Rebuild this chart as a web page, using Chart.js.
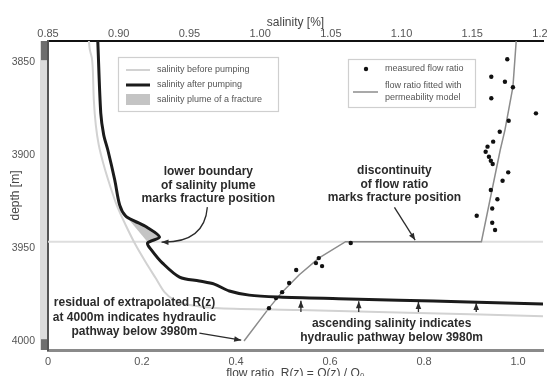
<!DOCTYPE html>
<html>
<head>
<meta charset="utf-8">
<script src="https://cdn.jsdelivr.net/npm/chart.js@4"></script>
<style>
  body { margin: 0; background: #fff; }
  canvas { display: block; }
</style>
</head>
<body>
<canvas id="chart" width="547" height="376"></canvas>
<script>
const depthTicks = [3850, 3900, 3950, 4000];
const salinityTicks = [0.85, 0.9, 0.95, 1.0, 1.05, 1.1, 1.15, 1.2];
const flowTicks = [0, 0.2, 0.4, 0.6, 0.8, 1.0];

// salinity before pumping (top axis)
const beforeSal = [0.8789, 0.8796, 0.881, 0.8817, 0.8824, 0.8838, 0.8859, 0.8894, 0.8937, 0.8986, 0.9049, 0.912, 0.919, 0.9261, 0.9324, 0.9394, 0.95, 0.9711, 1.0275, 1.112, 1.2];
const beforeDepth = [3838.7, 3843.5, 3847.8, 3854.3, 3870.4, 3883.9, 3894.6, 3905.4, 3916.1, 3926.9, 3937.6, 3948.4, 3957.5, 3966.1, 3973.7, 3978.0, 3980.6, 3982.3, 3983.3, 3984.9, 3986.6];

// salinity after pumping (top axis)
const afterSal = [0.8852, 0.8873, 0.8894, 0.8923, 0.8972, 0.9007, 0.9049, 0.9113, 0.9197, 0.9289, 0.9204, 0.9232, 0.931, 0.943, 0.957, 0.9676, 0.9782, 0.9923, 1.0134, 1.0556, 1.0979, 1.1472, 1.2];
const afterDepth = [3838.7, 3877.4, 3889.2, 3897.3, 3913.4, 3926.9, 3932.8, 3935.5, 3938.7, 3944.1, 3947.3, 3951.1, 3958.1, 3965.6, 3967.7, 3969.4, 3973.1, 3975.3, 3976.3, 3977.2, 3978.0, 3979.0, 3980.1];

// salinity plume of the fracture
const plumeSal = [0.9056, 0.9197, 0.9289, 0.9204, 0.9056];
const plumeDepth = [3933.3, 3938.7, 3944.1, 3946.8, 3933.3];

// measured flow ratio (bottom axis)
const measuredR = [0.470, 0.485, 0.498, 0.513, 0.528, 0.570, 0.576, 0.583, 0.644,
  0.977, 0.943, 0.972, 0.989, 0.943, 1.038, 0.980, 0.961, 0.947, 0.935, 0.931, 0.938, 0.942, 0.946,
  0.979, 0.967, 0.942, 0.956, 0.945, 0.912, 0.945, 0.951];
const measuredDepth = [3982.3, 3976.9, 3973.7, 3968.8, 3961.8, 3958.1, 3955.4, 3959.7, 3947.3,
  3848.5, 3857.9, 3860.6, 3863.6, 3869.5, 3877.6, 3881.6, 3887.5, 3892.8, 3895.5, 3898.2, 3900.9, 3903.1, 3904.8,
  3909.3, 3913.8, 3918.8, 3923.8, 3928.7, 3932.6, 3936.4, 3940.3];

// flow ratio fitted with permeability model
const fittedR = [0.996, 0.989, 0.972, 0.962, 0.922, 0.633, 0.576, 0.534, 0.498, 0.470, 0.417];
const fittedDepth = [3838.7, 3863.4, 3886.6, 3897.3, 3946.6, 3946.6, 3955.4, 3964.5, 3973.7, 3982.3, 4000.0];

const fractureDepth = 3946.6;
const stripDark = [[3838.7, 3849], [3999, 4004.8]];

const notes = [
  { lines: ['lower boundary', 'of salinity plume', 'marks fracture position'], r: 0.341, d: 3909.1, gap: 13.5 },
  { lines: ['discontinuity', 'of flow ratio', 'marks fracture position'], r: 0.737, d: 3908.6, gap: 13.5 },
  { lines: ['residual of extrapolated R(z)', 'at 4000m indicates hydraulic', 'pathway below 3980m'], r: 0.184, d: 3979.6, gap: 14.5 },
  { lines: ['ascending salinity indicates', 'hydraulic pathway below 3980m'], r: 0.731, d: 3990.6, gap: 14 }
];
const arrows = [
  { from: [0.339, 3928.0], ctrl: [0.333, 3947.3], to: [0.2415, 3946.8] },
  { from: [0.737, 3928.1], to: [0.781, 3945.7] },
  { from: [0.322, 3995.7], to: [0.411, 3999.5] },
  { from: [0.538, 3984.4], to: [0.538, 3978.3] },
  { from: [0.661, 3984.4], to: [0.661, 3978.6] },
  { from: [0.788, 3984.4], to: [0.788, 3979.0] },
  { from: [0.911, 3984.4], to: [0.911, 3979.5] }
];

const FONT = '"Liberation Sans", Arial, sans-serif';
const pts = (xs, ys) => xs.map((v, i) => ({ x: v, y: ys[i] }));
const fixTicks = arr => scale => { scale.ticks = arr.map(v => ({ value: v })); };
const fitBox = (w, h) => s => {
  if (w) s.width = w;
  if (h) s.height = h;
  s.paddingLeft = 0; s.paddingRight = 0; s.paddingTop = 0; s.paddingBottom = 0;
};

function arrowHead(ctx, x1, y1, x2, y2) {
  const a = Math.atan2(y2 - y1, x2 - x1);
  const len = 7, w = 2.8;
  ctx.beginPath();
  ctx.moveTo(x2, y2);
  ctx.lineTo(x2 - len * Math.cos(a) + w * Math.sin(a), y2 - len * Math.sin(a) - w * Math.cos(a));
  ctx.lineTo(x2 - len * Math.cos(a) - w * Math.sin(a), y2 - len * Math.sin(a) + w * Math.cos(a));
  ctx.closePath();
  ctx.fill();
}

const decor = {
  id: 'decor',
  beforeDatasetsDraw(chart) {
    const { ctx, chartArea: a, scales } = chart;
    const y = scales.y.getPixelForValue(fractureDepth);
    ctx.save();
    ctx.strokeStyle = '#dedede';
    ctx.lineWidth = 2;
    ctx.beginPath();
    ctx.moveTo(a.left, y);
    ctx.lineTo(a.right, y);
    ctx.stroke();
    ctx.restore();
  },
  afterDraw(chart) {
    const { ctx, chartArea: a, scales } = chart;
    const ys = scales.y, xb = scales.xBottom;
    ctx.save();
    // depth strip left of the axis
    ctx.fillStyle = '#dcdcdc';
    ctx.fillRect(a.left - 8, a.top, 7, a.bottom - a.top);
    ctx.fillStyle = '#6e6e6e';
    stripDark.forEach(([d0, d1]) => {
      const p0 = ys.getPixelForValue(d0), p1 = ys.getPixelForValue(d1);
      ctx.fillRect(a.left - 7, p0, 6, p1 - p0);
    });

    // annotations
    ctx.fillStyle = '#2b2b2b';
    ctx.strokeStyle = '#2b2b2b';
    ctx.font = 'bold 12px ' + FONT;
    ctx.textAlign = 'center';
    ctx.textBaseline = 'middle';
    notes.forEach(n => {
      const x = xb.getPixelForValue(n.r);
      const y0 = ys.getPixelForValue(n.d);
      n.lines.forEach((t, i) => ctx.fillText(t, x, y0 + i * n.gap));
    });
    ctx.lineWidth = 1.3;
    arrows.forEach(ar => {
      const x1 = xb.getPixelForValue(ar.from[0]), y1 = ys.getPixelForValue(ar.from[1]);
      const x2 = xb.getPixelForValue(ar.to[0]), y2 = ys.getPixelForValue(ar.to[1]);
      ctx.beginPath();
      ctx.moveTo(x1, y1);
      if (ar.ctrl) {
        const cx = xb.getPixelForValue(ar.ctrl[0]), cy = ys.getPixelForValue(ar.ctrl[1]);
        ctx.quadraticCurveTo(cx, cy, x2, y2);
        ctx.stroke();
        arrowHead(ctx, cx, cy, x2, y2);
      } else {
        ctx.lineTo(x2, y2);
        ctx.stroke();
        arrowHead(ctx, x1, y1, x2, y2);
      }
    });

    // legends
    const ds = chart.data.datasets;
    ctx.font = '9px ' + FONT;
    ctx.textAlign = 'left';
    ctx.fillStyle = '#555';
    ctx.strokeStyle = '#cfcfcf';
    ctx.lineWidth = 1.2;
    ctx.strokeRect(118.5, 57.5, 160, 54);
    ctx.strokeRect(348.5, 59.5, 127, 48);

    ctx.lineWidth = 2;
    ctx.strokeStyle = ds[2].borderColor;
    ctx.beginPath(); ctx.moveTo(126, 70); ctx.lineTo(150, 70); ctx.stroke();
    ctx.lineWidth = 3;
    ctx.strokeStyle = ds[0].borderColor;
    ctx.beginPath(); ctx.moveTo(126, 85); ctx.lineTo(150, 85); ctx.stroke();
    ctx.fillStyle = ds[4].backgroundColor;
    ctx.fillRect(126, 94, 24, 11);
    ctx.fillStyle = '#555';
    ctx.fillText(ds[2].label, 157, 70);
    ctx.fillText(ds[0].label, 157, 85);
    ctx.fillText(ds[4].label, 157, 99.5);

    ctx.fillStyle = '#111';
    ctx.beginPath(); ctx.arc(366, 69, 2.2, 0, Math.PI * 2); ctx.fill();
    ctx.strokeStyle = ds[3].borderColor;
    ctx.lineWidth = 1.5;
    ctx.beginPath(); ctx.moveTo(353, 92); ctx.lineTo(378, 92); ctx.stroke();
    ctx.fillStyle = '#555';
    ctx.fillText(ds[1].label, 385, 69);
    ctx.fillText('flow ratio fitted with', 385, 86);
    ctx.fillText('permeability model', 385, 97.5);
    ctx.restore();
  }
};

new Chart(document.getElementById('chart'), {
  type: 'line',
  data: {
    datasets: [
      {
        label: 'salinity after pumping',
        data: pts(afterSal, afterDepth),
        xAxisID: 'xTop', yAxisID: 'y',
        borderColor: '#1b1b1b', borderWidth: 3, pointRadius: 0, tension: 0.3,
        borderJoinStyle: 'round'
      },
      {
        label: 'measured flow ratio',
        data: pts(measuredR, measuredDepth),
        xAxisID: 'xBottom', yAxisID: 'y',
        showLine: false, pointRadius: 2.2, pointBackgroundColor: '#111',
        pointBorderWidth: 0
      },
      {
        label: 'salinity before pumping',
        data: pts(beforeSal, beforeDepth),
        xAxisID: 'xTop', yAxisID: 'y',
        borderColor: '#d2d2d2', borderWidth: 2, pointRadius: 0, tension: 0.3
      },
      {
        label: 'flow ratio fitted with permeability model',
        data: pts(fittedR, fittedDepth),
        xAxisID: 'xBottom', yAxisID: 'y',
        borderColor: '#8c8c8c', borderWidth: 1.5, pointRadius: 0, tension: 0
      },
      {
        label: 'salinity plume of a fracture',
        data: pts(plumeSal, plumeDepth),
        xAxisID: 'xTop', yAxisID: 'y',
        borderWidth: 0, borderColor: 'rgba(0,0,0,0)', backgroundColor: '#c4c4c4',
        pointRadius: 0, fill: 'shape', tension: 0
      }
    ]
  },
  options: {
    responsive: false,
    animation: false,
    devicePixelRatio: 1,
    layout: { padding: { left: 0, right: 2, top: 0, bottom: 0 } },
    plugins: { legend: { display: false }, tooltip: { enabled: false } },
    scales: {
      xTop: {
        type: 'linear', position: 'top', min: 0.85, max: 1.2,
        afterBuildTicks: fixTicks(salinityTicks),
        afterFit: fitBox(0, 41),
        grid: { display: false, drawTicks: false, tickLength: 0 },
        border: { color: '#111', width: 2 },
        ticks: { color: '#555', font: { family: FONT, size: 11 }, padding: 0, maxRotation: 0,
          callback: v => v.toFixed(2) },
        title: { display: true, text: 'salinity [%]', color: '#444',
          font: { family: FONT, size: 12 }, padding: { top: 15, bottom: 0 } }
      },
      xBottom: {
        type: 'linear', position: 'bottom', min: 0, max: 1.053,
        afterBuildTicks: fixTicks(flowTicks),
        afterFit: fitBox(0, 26),
        grid: { display: false, drawTicks: false, tickLength: 0 },
        border: { color: '#8a8a8a', width: 3 },
        ticks: { color: '#555', font: { family: FONT, size: 11 }, padding: 5, maxRotation: 0,
          callback: v => v === 0 ? '0' : v.toFixed(1) },
        title: { display: true, text: 'flow ratio  R(z) = Q(z) / Q\u2080', color: '#444',
          font: { family: FONT, size: 12 }, padding: { top: 0, bottom: -5 } }
      },
      y: {
        type: 'linear', reverse: true, min: 3838.7, max: 4004.8,
        afterBuildTicks: fixTicks(depthTicks),
        afterFit: fitBox(48, 0),
        grid: { display: true, drawOnChartArea: false, drawTicks: true, tickLength: 4, color: '#777' },
        border: { color: '#555', width: 2 },
        ticks: { color: '#555', font: { family: FONT, size: 10.5 }, padding: 9,
          callback: v => String(v) },
        title: { display: true, text: 'depth [m]', color: '#444',
          font: { family: FONT, size: 12 }, padding: { top: 8, bottom: 0 } }
      }
    }
  },
  plugins: [decor]
});
</script>
</body>
</html>
